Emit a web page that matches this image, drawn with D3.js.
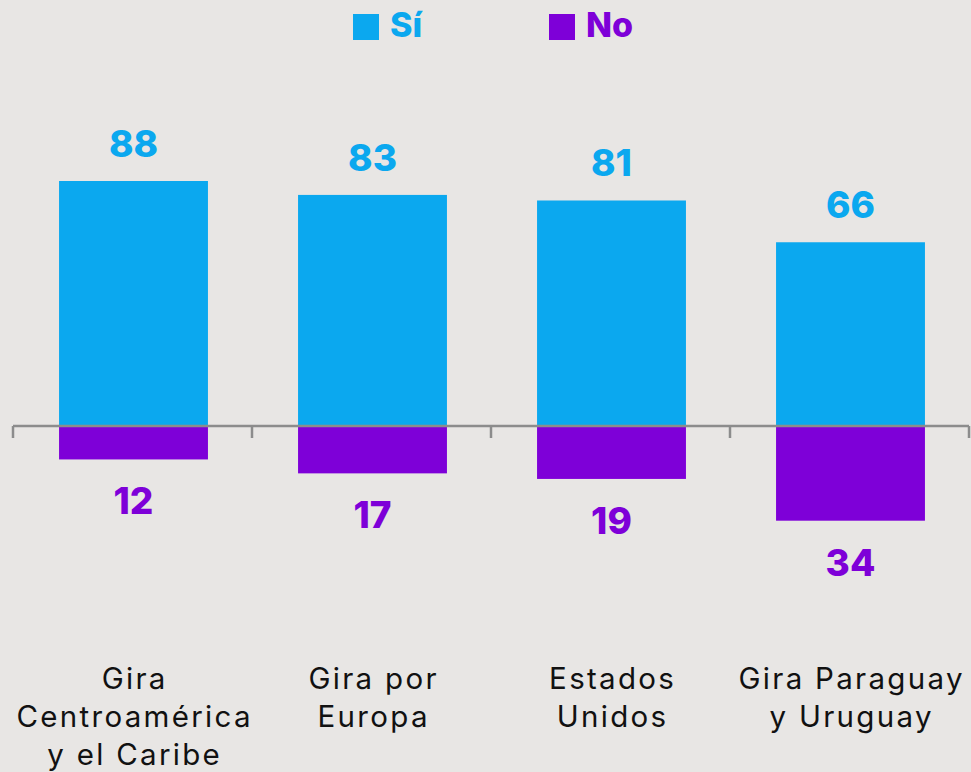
<!DOCTYPE html>
<html><head><meta charset="utf-8">
<script src="https://cdn.jsdelivr.net/npm/d3@7"></script>
<style>body{margin:0;background:#e8e6e4;}svg{display:block;}</style>
</head><body>
<svg id="c" width="971" height="772"></svg>
<script>
const categories = [["Gira","Centroamérica","y el Caribe"],["Gira por","Europa"],["Estados","Unidos"],["Gira Paraguay","y Uruguay"]];
const siValues = [88, 83, 81, 66];
const noValues = [12, 17, 19, 34];
const seriesNames = ["Sí", "No"];
const colors = ["#0ba8ef", "#7e00d8"];
const font = "Inter, 'Open Sans', sans-serif";

const svg = d3.select("#c");
const W = 971, H = 772;
svg.append("rect").attr("width", W).attr("height", H).attr("fill", "#e8e6e4");

const idx = categories.map((d,i)=>i);
const x = d3.scaleBand().domain(idx).range([14, 970]).paddingInner(0.377).paddingOuter(0.1885);
const xb = d3.scaleBand().domain(idx).range([13, 969]).padding(0);
const y = d3.scaleLinear().domain([-34, 88]).range([520.7, 181]);

// bars
svg.selectAll("rect.si").data(siValues).join("rect")
  .attr("x", (d,i)=>x(i)).attr("width", x.bandwidth())
  .attr("y", d=>y(d)).attr("height", d=>y(0)-y(d)).attr("fill", colors[0]);
svg.selectAll("rect.no").data(noValues).join("rect")
  .attr("x", (d,i)=>x(i)).attr("width", x.bandwidth())
  .attr("y", y(0)).attr("height", d=>y(-d)-y(0)).attr("fill", colors[1]);

// axis line and ticks
const ax = svg.append("g");
ax.append("line").attr("x1", 13).attr("x2", 969).attr("y1", y(0)).attr("y2", y(0))
  .attr("stroke", "#8c8c8c").attr("stroke-width", 2.5);
const tickPos = idx.map(i=>xb(i)).concat([xb(3)+xb.bandwidth()]);
ax.selectAll("line.t").data(tickPos).join("line")
  .attr("x1", d=>d).attr("x2", d=>d).attr("y1", y(0)).attr("y2", y(0)+12)
  .attr("stroke", "#8c8c8c").attr("stroke-width", 2.5);

// value labels
svg.selectAll("text.si").data(siValues).join("text")
  .attr("x", (d,i)=>x(i)+x.bandwidth()/2).attr("y", d=>y(d)-24)
  .attr("text-anchor","middle").attr("font-family", font).attr("font-weight", 800)
  .attr("font-size", 37).attr("fill", colors[0]).text(d=>d);
svg.selectAll("text.no").data(noValues).join("text")
  .attr("x", (d,i)=>x(i)+x.bandwidth()/2).attr("y", d=>y(-d)+55)
  .attr("text-anchor","middle").attr("font-family", font).attr("font-weight", 800)
  .attr("font-size", 37).attr("fill", colors[1]).text(d=>d);

// category labels
categories.forEach((lines, i)=>{
  const t = svg.append("text").attr("text-anchor","middle").attr("font-family", font)
    .attr("font-size", 29.5).attr("letter-spacing", 2.3).attr("fill", "#111");
  lines.forEach((l, j)=>{
    t.append("tspan").attr("x", x(i)+x.bandwidth()/2 + 1.15).attr("y", 689 + j*38).text(l);
  });
});

// legend
const legendX = [353, 549];
seriesNames.forEach((n,i)=>{
  svg.append("rect").attr("x", legendX[i]).attr("y", 14).attr("width", 26).attr("height", 26).attr("fill", colors[i]);
  svg.append("text").attr("x", legendX[i]+37).attr("y", 37).attr("font-family", font)
    .attr("font-weight", 800).attr("font-size", 34).attr("fill", colors[i]).text(n);
});
</script>
</body></html>
